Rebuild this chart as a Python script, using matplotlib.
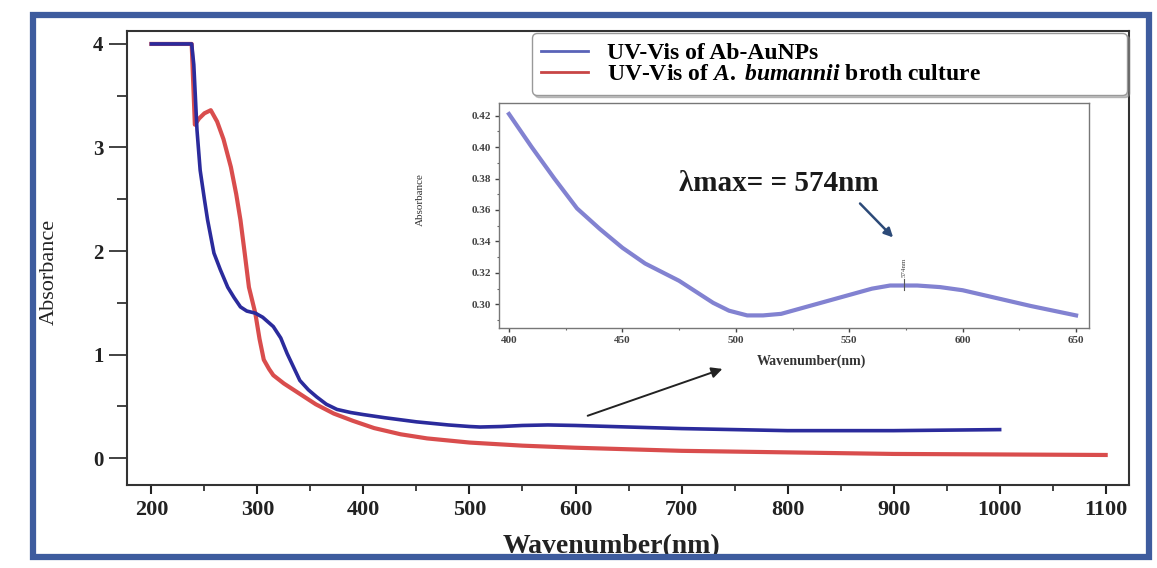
import numpy as np
import matplotlib
matplotlib.use("Agg")
import matplotlib.pyplot as plt
from matplotlib.patches import Rectangle
from matplotlib.ticker import MultipleLocator

plt.rcParams['font.family'] = ['Liberation Serif', 'DejaVu Serif']
plt.rcParams['mathtext.fontset'] = 'custom'
plt.rcParams['mathtext.rm'] = 'Liberation Serif:bold'
plt.rcParams['mathtext.it'] = 'Liberation Serif:italic:bold'

# main spectra
wl_aunp = [200, 210, 220, 230, 238, 240, 243, 246, 250, 253, 259, 265, 272, 278, 284, 290,
           298, 305, 315, 322, 328, 334, 340, 348, 356, 365, 375, 388, 400, 420, 450, 480,
           500, 510, 530, 550, 574, 600, 650, 700, 750, 800, 850, 900, 950, 1000]
abs_aunp = [4.0, 4.0, 4.0, 4.0, 4.0, 3.8, 3.17, 2.78, 2.5, 2.30, 1.98, 1.82, 1.65, 1.55, 1.46, 1.42,
            1.40, 1.36, 1.27, 1.16, 1.01, 0.88, 0.75, 0.66, 0.59, 0.52, 0.47, 0.44, 0.42, 0.39, 0.35, 0.32,
            0.305, 0.30, 0.305, 0.315, 0.32, 0.315, 0.30, 0.285, 0.275, 0.265, 0.265, 0.265, 0.27, 0.275]

wl_broth = [200, 210, 220, 230, 238, 241, 245, 250, 256, 262, 268, 275, 280, 284, 288, 292,
            298, 302, 306, 311, 315, 325, 340, 355, 372, 390, 410, 435, 460, 500, 550, 600,
            650, 700, 800, 900, 1000, 1100]
abs_broth = [4.0, 4.0, 4.0, 4.0, 4.0, 3.22, 3.28, 3.33, 3.36, 3.25, 3.08, 2.81, 2.55, 2.30, 1.98, 1.65,
             1.40, 1.15, 0.95, 0.86, 0.80, 0.72, 0.62, 0.52, 0.43, 0.36, 0.29, 0.23, 0.19, 0.15, 0.12, 0.10,
             0.085, 0.07, 0.055, 0.04, 0.035, 0.03]

# inset zoom of the AuNP band
wl_inset = [400, 410, 420, 430, 440, 450, 460, 475, 490, 497, 505, 512, 520, 530, 540, 550,
            560, 568, 574, 580, 590, 600, 615, 630, 640, 650]
abs_inset = [0.421, 0.40, 0.38, 0.361, 0.348, 0.336, 0.326, 0.315, 0.301, 0.296, 0.293, 0.293, 0.294, 0.298, 0.302, 0.306,
             0.310, 0.312, 0.312, 0.312, 0.311, 0.309, 0.304, 0.299, 0.296, 0.293]

lab_aunp = 'UV-Vis of Ab-AuNPs'
lab_broth = r'UV-Vis of $\it{A.}$ $\it{bumannii}$ broth culture'

fig = plt.figure(figsize=(11.57, 5.68), dpi=100)
fig.patch.set_facecolor('white')

# blue picture frame
fig.patches.append(Rectangle((33 / 1157, 1 - 557 / 568), 1116 / 1157, 542 / 568,
                             transform=fig.transFigure, fill=False,
                             edgecolor='#3e5c9e', lw=4.5, zorder=0))

ax = fig.add_axes([127 / 1157, 1 - 485 / 568, 1002 / 1157, 454 / 568])
l1, = ax.plot(wl_aunp, abs_aunp, color='#2b2b9c', lw=2.6, zorder=3)
l2, = ax.plot(wl_broth, abs_broth, color='#d53a3a', lw=3.0, alpha=0.9, zorder=2)
ax.set_xlim(177, 1122)
ax.set_ylim(-0.26, 4.125)
ax.xaxis.set_major_locator(MultipleLocator(100))
ax.xaxis.set_minor_locator(MultipleLocator(50))
ax.yaxis.set_major_locator(MultipleLocator(1))
ax.yaxis.set_minor_locator(MultipleLocator(0.5))
ax.tick_params(axis='y', which='major', direction='out', length=13, width=1.2, pad=4,
               labelsize=15, colors='#222222')
ax.tick_params(axis='y', which='minor', direction='out', length=7, width=1.2, colors='#222222')
ax.tick_params(axis='x', which='major', direction='out', length=6.5, width=1.5, pad=4,
               labelsize=16, colors='#222222')
ax.tick_params(axis='x', which='minor', direction='out', length=4, width=1.2, colors='#222222')
for lab in ax.get_xticklabels() + ax.get_yticklabels():
    lab.set_fontweight('bold')
for sp in ax.spines.values():
    sp.set_linewidth(1.5)
    sp.set_color('#333333')
ax.set_xlabel('Wavenumber(nm)', fontsize=20, fontweight='bold', color='#222222')
ax.set_ylabel('Absorbance', fontsize=16, color='#222222')
ax.xaxis.set_label_coords(0.484, -0.108)
ax.yaxis.set_label_coords(-0.068, 0.469)

h1, = ax.plot([], [], color='#5a63b8', lw=2)
h2, = ax.plot([], [], color='#c84545', lw=2)
leg = ax.legend([h1, h2], [lab_aunp, lab_broth], loc='upper left',
                bbox_to_anchor=(0.404, 0.874, 0.594, 0.122), mode='expand',
                borderaxespad=0, fancybox=True, shadow={'color': '0.55', 'alpha': 0.5},
                prop={'family': 'Liberation Serif', 'weight': 'bold', 'size': 17},
                handlelength=2.0, handletextpad=0.8, labelspacing=0.0, borderpad=0.4,
                framealpha=1, edgecolor='#999999')

ax.annotate('', xy=(741, 0.87), xytext=(609, 0.40),
            arrowprops=dict(arrowstyle='-|>', color='#222222', lw=1.4, mutation_scale=16))

# inset
ins = fig.add_axes([499 / 1157, 1 - 328 / 568, 590 / 1157, 225 / 568])
ins.plot(wl_inset, abs_inset, color='#7474cc', lw=3, alpha=0.9)
ins.set_xlim(395.6, 655.7)
ins.set_ylim(0.285, 0.428)
ins.xaxis.set_major_locator(MultipleLocator(50))
ins.xaxis.set_minor_locator(MultipleLocator(25))
ins.yaxis.set_major_locator(MultipleLocator(0.02))
ins.yaxis.set_minor_locator(MultipleLocator(0.01))
ins.yaxis.set_major_formatter(matplotlib.ticker.FormatStrFormatter('%.2f'))
ins.tick_params(which='major', direction='out', length=3, width=1, labelsize=8,
                colors='#444444', pad=3)
ins.tick_params(which='minor', direction='out', length=1.5, width=0.8, colors='#666666')
for lab in ins.get_xticklabels() + ins.get_yticklabels():
    lab.set_fontweight('bold')
for sp in ins.spines.values():
    sp.set_linewidth(1.0)
    sp.set_color('#777777')
ins.set_xlabel('Wavenumber(nm)', fontsize=10, fontweight='bold', color='#333333')
ins.set_ylabel('Absorbance', fontsize=8, color='#333333')
ins.xaxis.set_label_coords(0.529, -0.12)
ins.yaxis.set_label_coords(-0.125, 0.569)

ins.text(519, 0.377, 'λmax= = 574nm', fontsize=21, fontweight='bold',
         ha='center', va='center', color='#1a1a1a')
ins.annotate('', xy=(570.2, 0.3413), xytext=(553.9, 0.3654),
             arrowprops=dict(arrowstyle='-|>', color='#2c4a78', lw=1.8, mutation_scale=13))
ins.plot([574, 574], [0.309, 0.316], color='#555555', lw=0.8)
ins.text(574, 0.3175, '574nm', fontsize=5, rotation=90, ha='center', va='bottom',
         color='#444444')

fig.savefig('out.png', dpi=100)
